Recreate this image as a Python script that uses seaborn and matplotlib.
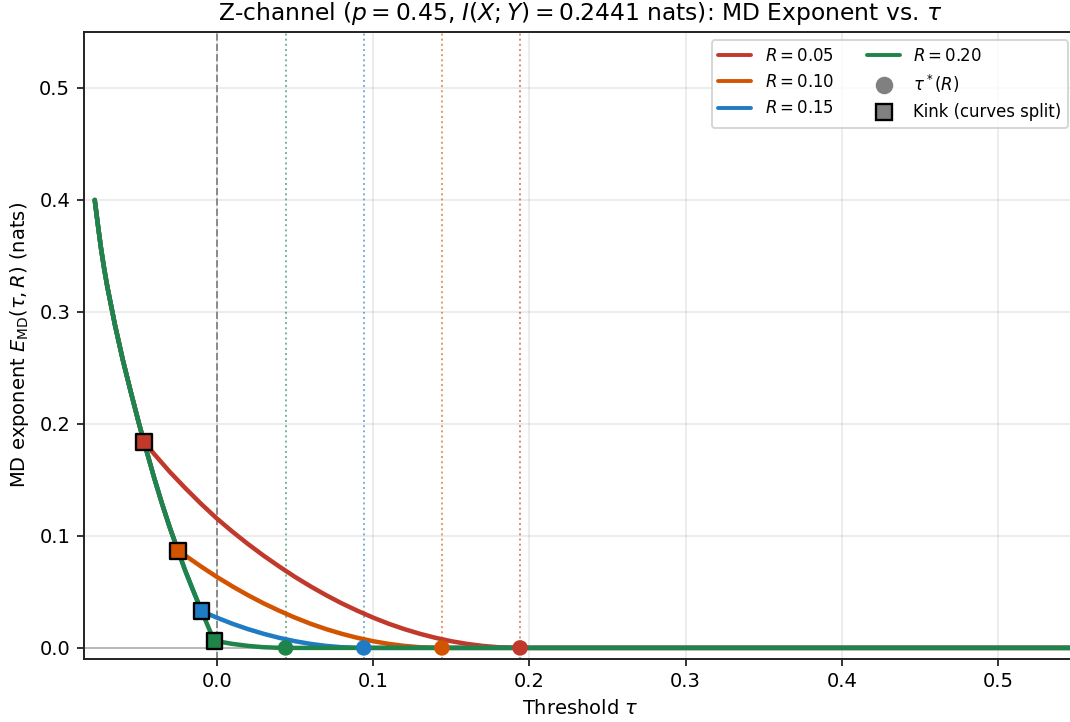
import matplotlib
matplotlib.use("Agg")
import matplotlib.pyplot as plt
import numpy as np
import pandas as pd
import seaborn as sns
from matplotlib.lines import Line2D

# ---- data -----------------------------------------------------------------
rates = [0.05, 0.10, 0.15, 0.20]
rate_labels = [r"$R = 0.05$", r"$R = 0.10$", r"$R = 0.15$", r"$R = 0.20$"]
colors = ["#c0392b", "#d35400", "#1f7bc4", "#1e8449"]

# optimal thresholds tau*(R) = I(X;Y) - R
tau_star = [0.1941, 0.1441, 0.0941, 0.0441]

# kink where each rate's curve leaves the shared branch
kink_tau = [-0.0465, -0.0246, -0.0096, -0.0015]
kink_E = [0.184, 0.0863, 0.0328, 0.0063]

# shared (rate-independent) branch
common_tau = [-0.078, -0.076, -0.074, -0.072, -0.070, -0.065, -0.060, -0.055,
              -0.050, -0.0465, -0.040, -0.035, -0.030, -0.0246, -0.020,
              -0.015, -0.0096, -0.005, -0.0015]
common_E = [0.400, 0.378, 0.357, 0.339, 0.323, 0.288, 0.257, 0.229,
            0.202, 0.184, 0.152, 0.129, 0.1076, 0.0863, 0.0686,
            0.0511, 0.0328, 0.0175, 0.0063]

# rate-specific branches (start at the kink, end at tau*)
branch_tau_05 = [-0.0465, -0.04, -0.03, -0.02, -0.01, 0.00, 0.01, 0.02, 0.03,
                 0.04, 0.05, 0.06, 0.07, 0.08, 0.09, 0.10, 0.11, 0.12, 0.13,
                 0.14, 0.15, 0.16, 0.17, 0.18, 0.19, 0.1941]
branch_E_05 = [0.184, 0.1732, 0.1572, 0.1426, 0.1287, 0.1157, 0.1039, 0.0928,
               0.0824, 0.0727, 0.0635, 0.0550, 0.0471, 0.0398, 0.0332, 0.0271,
               0.0216, 0.0168, 0.0126, 0.0090, 0.0060, 0.0036, 0.0018, 0.0006,
               0.0001, 0.0]

branch_tau_10 = [-0.0246, -0.02, -0.01, 0.00, 0.01, 0.02, 0.03, 0.04, 0.05,
                 0.06, 0.07, 0.08, 0.09, 0.10, 0.11, 0.12, 0.13, 0.14, 0.1441]
branch_E_10 = [0.0863, 0.0824, 0.0727, 0.0635, 0.0550, 0.0471, 0.0398, 0.0332,
               0.0271, 0.0216, 0.0168, 0.0126, 0.0090, 0.0060, 0.0036, 0.0018,
               0.0006, 0.0001, 0.0]

branch_tau_15 = [-0.0096, 0.00, 0.01, 0.02, 0.03, 0.04, 0.05, 0.06, 0.07,
                 0.08, 0.09, 0.0941]
branch_E_15 = [0.0328, 0.0271, 0.0216, 0.0168, 0.0126, 0.0090, 0.0060, 0.0036,
               0.0018, 0.0006, 0.0001, 0.0]

branch_tau_20 = [-0.0015, 0.00, 0.01, 0.02, 0.03, 0.04, 0.0441]
branch_E_20 = [0.0063, 0.0060, 0.0036, 0.0018, 0.0006, 0.0001, 0.0]

branches = [(branch_tau_05, branch_E_05), (branch_tau_10, branch_E_10),
            (branch_tau_15, branch_E_15), (branch_tau_20, branch_E_20)]

tau_end = 0.55
x_ticks = [0.0, 0.1, 0.2, 0.3, 0.4, 0.5]
y_ticks = [0.0, 0.1, 0.2, 0.3, 0.4, 0.5]

# ---- figure ---------------------------------------------------------------
sns.set_style("ticks")
plt.rcParams["font.family"] = ["DejaVu Sans"]
plt.rcParams["mathtext.fontset"] = "dejavusans"
plt.rcParams["text.color"] = "black"
plt.rcParams["axes.labelcolor"] = "black"

DPI = 140
fig = plt.figure(figsize=(1070 / DPI, 722 / DPI), dpi=DPI)
ax = fig.add_axes([0.0783, 0.0879, 1.006 - 0.0783, 0.9557 - 0.0879])

ax.grid(True, color="#b0b0b0", alpha=0.3, lw=0.8)
ax.axhline(0, color="gray", lw=0.8, alpha=0.6, zorder=1)
ax.axvline(0, color="gray", ls="--", lw=1.0, alpha=0.9, zorder=1)
for ts, c in zip(tau_star, colors):
    ax.axvline(ts, color=c, ls=":", lw=1.0, alpha=0.6, zorder=1)

curve_frames = []
for r, lab, (btau, bE), kt in zip(rates, rate_labels, branches, kink_tau):
    shared = [(t, e) for t, e in zip(common_tau, common_E) if t < kt]
    pts = shared + list(zip(btau, bE)) + [(tau_end, 0.0)]
    df = pd.DataFrame(pts, columns=["tau", "E"])
    df["rate"] = lab
    curve_frames.append(df)

for df, c in zip(curve_frames, colors):
    sns.lineplot(data=df, x="tau", y="E", color=c, lw=2.3, sort=False,
                 estimator=None, ax=ax, zorder=3)

sns.scatterplot(x=tau_star, y=[0.0] * len(tau_star), hue=rate_labels,
                palette=colors, marker="o", s=64, linewidth=0,
                legend=False, ax=ax, zorder=5)
sns.scatterplot(x=kink_tau, y=kink_E, hue=rate_labels, palette=colors,
                marker="s", s=64, edgecolor="black", linewidth=1.2,
                legend=False, ax=ax, zorder=6)

ax.set_xlim(-0.085, tau_end)
ax.set_ylim(-0.0095, 0.55)
ax.set_xticks(x_ticks)
ax.set_yticks(y_ticks)
ax.set_xticklabels([f"{v:.1f}" for v in x_ticks])
ax.set_yticklabels([f"{v:.1f}" for v in y_ticks])
ax.tick_params(labelsize=10, length=3.5, width=0.8, colors="black")
for sp in ax.spines.values():
    sp.set_linewidth(1.0)
    sp.set_color("#222222")

ax.set_xlabel(r"Threshold $\tau$", fontsize=10)
ax.set_ylabel(r"MD exponent $E_{\mathrm{MD}}(\tau, R)$ (nats)", fontsize=10)
ax.set_title(r"Z-channel ($p = 0.45$, $I(X;Y) = 0.2441$ nats): MD Exponent vs. $\tau$",
             fontsize=12)

handles = [Line2D([0], [0], color=c, lw=2.0, label=lab)
           for c, lab in zip(colors, rate_labels)]
handles.append(Line2D([0], [0], marker="o", color="gray", ls="", ms=8,
                      label=r"$\tau^*(R)$"))
handles.append(Line2D([0], [0], marker="s", mfc="gray", mec="black", ls="",
                      ms=8, mew=1.2, label="Kink (curves split)"))
ax.legend(handles=handles, ncol=2, loc="upper right", fontsize=8.5,
          frameon=True)

fig.savefig("out.png", dpi=DPI)
